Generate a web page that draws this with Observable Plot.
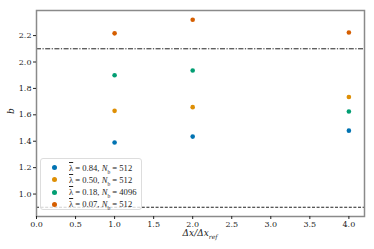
<!DOCTYPE html>
<html><head><meta charset="utf-8">
<script src="https://cdn.jsdelivr.net/npm/d3@7"></script>
<script src="https://cdn.jsdelivr.net/npm/@observablehq/plot@0.6"></script>
<style>
body{margin:0;background:#fff;}
#wrap{position:relative;width:374px;height:249px;font-family:"DejaVu Serif","Liberation Serif",serif;}
#legend{position:absolute;left:40px;top:158px;width:102px;height:52px;border:1px solid #ddd;border-radius:3px;background:rgba(255,255,255,0.8);font-family:"Liberation Serif",serif;font-size:8.6px;color:#222;box-sizing:border-box;}
#legend .row{position:absolute;left:0;width:100%;height:12px;display:flex;align-items:center;white-space:nowrap;}
#legend .dot{display:inline-block;margin-left:11px;width:5px;height:5px;border-radius:50%;flex:none;}
#legend .lab{display:inline-block;margin-left:12px;}
.ov{text-decoration:overline;}
</style></head>
<body><div id="wrap"></div>
<script>
const xs = [1, 2, 4];
const series = ["\u03bb=0.84, Nb=512", "\u03bb=0.50, Nb=512", "\u03bb=0.18, Nb=4096", "\u03bb=0.07, Nb=512"];
const lambdaLabels = ["0.84", "0.50", "0.18", "0.07"];
const nbLabels = ["512", "512", "4096", "512"];
const colors = ["#0173b2", "#de8f05", "#029e73", "#d55e00"];
const values = [
  [1.39, 1.435, 1.48],
  [1.63, 1.658, 1.735],
  [1.90, 1.936, 1.625],
  [2.217, 2.32, 2.223]
];
const hLower = 0.9;
const hUpper = 2.1;
const xTicks = [0, 0.5, 1.0, 1.5, 2.0, 2.5, 3.0, 3.5, 4.0];
const yTicks = [1.0, 1.2, 1.4, 1.6, 1.8, 2.0, 2.2];

const data = [];
series.forEach((s, i) => xs.forEach((x, j) => data.push({x, y: values[i][j], s})));

const chart = Plot.plot({
  width: 374, height: 249,
  marginLeft: 36, marginRight: 10, marginTop: 10, marginBottom: 33,
  style: {fontFamily: "DejaVu Serif, Liberation Serif, serif", fontSize: "8px", color: "#222"},
  x: {domain: [0, 4.2], ticks: xTicks, tickFormat: d3.format(".1f"), label: null},
  y: {domain: [0.83, 2.39], ticks: yTicks, tickFormat: d3.format(".1f"), label: null},
  color: {domain: series, range: colors},
  marks: [
    Plot.ruleY([hLower], {stroke: "#222", strokeWidth: 1, strokeDasharray: "3,1.6"}),
    Plot.ruleY([hUpper], {stroke: "#222", strokeWidth: 1, strokeDasharray: "5,1.5,1.2,1.5"}),
    Plot.dot(data, {x: "x", y: "y", fill: "s", r: 2.3}),
    Plot.frame({stroke: "#8a8a8a", strokeWidth: 1.5}),
    Plot.axisX({ticks: xTicks, tickFormat: d3.format(".1f"), tickSize: 3, tickPadding: 2, label: null}),
    Plot.axisY({ticks: yTicks, tickFormat: d3.format(".1f"), tickSize: 3, tickPadding: 2, label: null})
  ]
});
const wrap = document.getElementById("wrap");
wrap.appendChild(chart);

// axis labels
const xl = document.createElement("div");
xl.style.cssText = "position:absolute;left:0;width:400px;top:228px;line-height:10px;text-align:center;font-size:9px;font-style:italic;color:#222;";
xl.innerHTML = "\u0394x/\u0394x<sub style='font-size:6px;line-height:0'>ref</sub>";
wrap.appendChild(xl);
const yl = document.createElement("div");
yl.style.cssText = "position:absolute;left:8px;top:106px;font-size:9px;font-style:italic;color:#222;transform:rotate(-90deg);";
yl.textContent = "b";
wrap.appendChild(yl);

// legend
const lg = document.createElement("div");
lg.id = "legend";
series.forEach((s, i) => {
  const row = document.createElement("div");
  row.className = "row";
  row.style.top = (2.5 + i * 12.3) + "px";
  row.innerHTML = `<span class="dot" style="background:${colors[i]}"></span><span class="lab"><span class="ov">\u03bb</span> = ${lambdaLabels[i]}, <i>N</i><sub style="font-size:5.5px;line-height:0">b</sub> = ${nbLabels[i]}</span>`;
  lg.appendChild(row);
});
wrap.appendChild(lg);
</script>
</body></html>
